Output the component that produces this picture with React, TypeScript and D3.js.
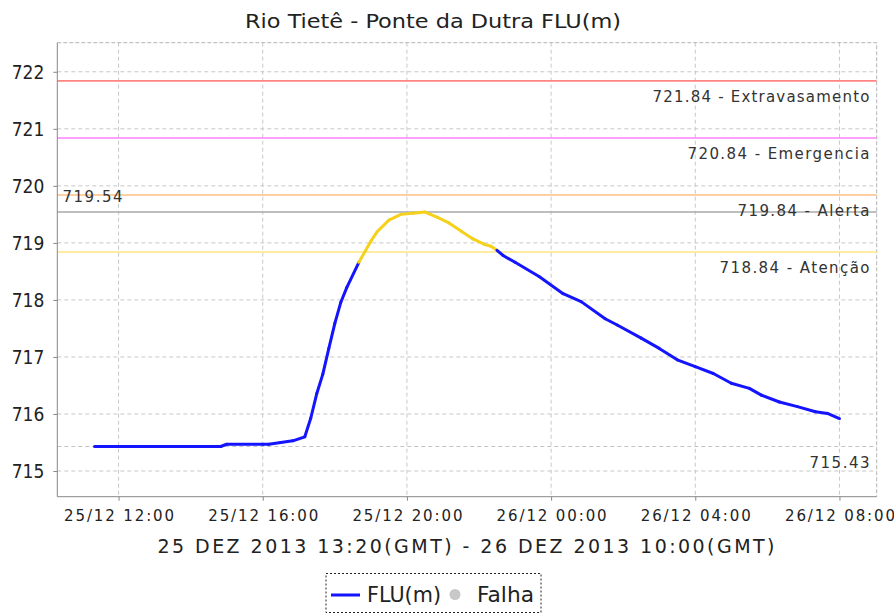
import React, { useEffect, useRef } from 'react';
import * as d3 from 'd3';

// leituras do nível (m) - Rio Tietê, Ponte da Dutra
const times = [
  '25/12 11:20', '25/12 12:40', '25/12 14:00', '25/12 14:50', '25/12 15:00',
  '25/12 16:00', '25/12 16:10', '25/12 16:30', '25/12 16:50', '25/12 17:10',
  '25/12 17:20', '25/12 17:30', '25/12 17:40', '25/12 17:50', '25/12 18:00',
  '25/12 18:10', '25/12 18:20', '25/12 18:40', '25/12 19:00', '25/12 19:10',
  '25/12 19:30', '25/12 19:50', '25/12 20:10', '25/12 20:30', '25/12 20:50',
  '25/12 21:10', '25/12 21:30', '25/12 21:50', '25/12 22:10', '25/12 22:20',
  '25/12 22:30', '25/12 22:40', '25/12 23:00', '25/12 23:40', '26/12 00:20',
  '26/12 00:50', '26/12 01:30', '26/12 01:50', '26/12 02:30', '26/12 03:00',
  '26/12 03:30', '26/12 04:00', '26/12 04:30', '26/12 05:00', '26/12 05:30',
  '26/12 05:50', '26/12 06:20', '26/12 06:50', '26/12 07:20', '26/12 07:40',
  '26/12 08:00',
];

const levels = [
  715.43, 715.43, 715.43, 715.43, 715.47,
  715.47, 715.47, 715.5, 715.53, 715.6,
  715.93, 716.36, 716.7, 717.15, 717.59,
  717.96, 718.22, 718.66, 719.03, 719.19,
  719.4, 719.5, 719.52, 719.54, 719.45,
  719.35, 719.21, 719.07, 718.97, 718.94,
  718.87, 718.78, 718.66, 718.41, 718.11,
  717.97, 717.67, 717.56, 717.33, 717.15,
  716.95, 716.83, 716.71, 716.54, 716.45,
  716.33, 716.21, 716.13, 716.04, 716.01,
  715.92,
];

const thresholdValues = [721.84, 720.84, 719.84, 718.84];
const thresholdNames = ['Extravasamento', 'Emergencia', 'Alerta', 'Atenção'];

const xTickLabels = ['25/12 12:00', '25/12 16:00', '25/12 20:00', '26/12 00:00', '26/12 04:00', '26/12 08:00'];
const yTickValues = [715, 716, 717, 718, 719, 720, 721, 722];
const xDomain = ['25/12 10:18', '26/12 09:02'];
const yDomain = [714.55, 722.51];

const title = 'Rio Tietê - Ponte da Dutra FLU(m)';
const xTitle = '25 DEZ 2013 13:20(GMT) - 26 DEZ 2013 10:00(GMT)';

export default function App() {
  const ref = useRef<SVGSVGElement>(null);

  useEffect(() => {
    const width = 894;
    const height = 614;
    const margin = { top: 42.7, bottom: 117.3, left: 57.3, right: 17.3 };

    const parse = d3.timeParse('%d/%m/%Y %H:%M');
    const toDate = (s: string) => {
      const [d, t] = s.split(' ');
      return parse(`${d}/2013 ${t}`) as Date;
    };
    const fmt = d3.timeFormat('%d/%m %H:%M');

    const data = times.map((t, i) => ({ date: toDate(t), value: levels[i] }));

    const svg = d3.select(ref.current);
    svg.selectAll('*').remove();

    const xScale = d3
      .scaleTime()
      .domain(xDomain.map(toDate))
      .range([margin.left, width - margin.right]);

    const yScale = d3
      .scaleLinear()
      .domain(yDomain)
      .range([height - margin.bottom, margin.top]);

    const x0 = margin.left;
    const x1 = width - margin.right;
    const y0 = height - margin.bottom;
    const y1 = margin.top;

    svg.append('rect')
      .attr('width', width)
      .attr('height', height)
      .attr('fill', '#fff');

    // grade
    const grid = svg.append('g').attr('stroke', '#c8c8c8').attr('stroke-dasharray', '4,3');
    grid.selectAll('line.v')
      .data(xTickLabels.map(toDate))
      .enter()
      .append('line')
      .attr('x1', (d) => xScale(d))
      .attr('x2', (d) => xScale(d))
      .attr('y1', y1)
      .attr('y2', y0);
    grid.selectAll('line.h')
      .data(yTickValues)
      .enter()
      .append('line')
      .attr('x1', x0)
      .attr('x2', x1)
      .attr('y1', (d) => yScale(d))
      .attr('y2', (d) => yScale(d));

    // borda superior e direita
    svg.append('path')
      .attr('d', `M${x0},${y1}H${x1}V${y0}`)
      .attr('fill', 'none')
      .attr('stroke', '#b4b4b4')
      .attr('stroke-dasharray', '4,2');

    // limites
    const thresholdColors = ['#ff8484', '#ff80ff', '#ffbf86', '#ffe680'];
    const labelWidths = [217, 182, 132, 150];
    thresholdValues.forEach((v, i) => {
      svg.append('line')
        .attr('x1', x0)
        .attr('x2', x1)
        .attr('y1', yScale(v))
        .attr('y2', yScale(v))
        .attr('stroke', thresholdColors[i])
        .attr('stroke-width', 1.6);
    });

    const maxV = d3.max(levels) as number;
    const minV = d3.min(levels) as number;

    svg.append('line')
      .attr('x1', x0)
      .attr('x2', x1)
      .attr('y1', yScale(maxV))
      .attr('y2', yScale(maxV))
      .attr('stroke', '#a8a8a8')
      .attr('stroke-width', 1.5);

    svg.append('line')
      .attr('x1', x0)
      .attr('x2', x1)
      .attr('y1', yScale(minV))
      .attr('y2', yScale(minV))
      .attr('stroke', '#c4c4c4')
      .attr('stroke-dasharray', '4,3');

    const labels = svg.append('g')
      .attr('font-family', 'DejaVu Sans')
      .attr('font-size', 15)
      .attr('fill', '#333');

    thresholdValues.forEach((v, i) => {
      labels.append('text')
        .attr('x', 869.5)
        .attr('y', yScale(v) + 21)
        .attr('text-anchor', 'end')
        .attr('textLength', labelWidths[i])
        .attr('lengthAdjust', 'spacing')
        .text(`${v.toFixed(2)} - ${thresholdNames[i]}`);
    });

    labels.append('text')
      .attr('x', 62.5)
      .attr('y', yScale(maxV) - 10)
      .attr('textLength', 60)
      .attr('lengthAdjust', 'spacing')
      .text(maxV.toFixed(2));

    labels.append('text')
      .attr('x', 869.5)
      .attr('y', yScale(minV) + 21)
      .attr('text-anchor', 'end')
      .attr('textLength', 60)
      .attr('lengthAdjust', 'spacing')
      .text(minV.toFixed(2));

    // série, amarela quando passa do nível de atenção
    const atencao = thresholdValues[3];
    const segs = d3.pairs(data);
    const line = d3.line<{ date: Date; value: number }>()
      .x((d) => xScale(d.date))
      .y((d) => yScale(d.value));

    svg.append('g')
      .selectAll('path')
      .data(segs)
      .enter()
      .append('path')
      .attr('d', (d) => line(d) as string)
      .attr('fill', 'none')
      .attr('stroke', (d) => (d[1].value >= atencao ? '#f6d11c' : '#1414ff'))
      .attr('stroke-width', 3)
      .attr('stroke-linecap', 'round');

    // eixos
    const xAxis = d3.axisBottom(xScale)
      .tickValues(xTickLabels.map(toDate))
      .tickFormat((d) => fmt(d as Date))
      .tickSize(4)
      .tickSizeOuter(0);

    const yAxis = d3.axisLeft(yScale)
      .tickValues(yTickValues)
      .tickFormat(d3.format('d'))
      .tickSize(4)
      .tickSizeOuter(0);

    const gx = svg.append('g')
      .attr('transform', `translate(0, ${y0})`)
      .call(xAxis);
    gx.select('.domain').attr('stroke', '#888').attr('d', `M${x0},0H${x1}`);
    gx.selectAll('.tick line').attr('stroke', '#888');
    gx.selectAll('.tick text')
      .attr('font-family', 'DejaVu Sans')
      .attr('font-size', 15)
      .attr('fill', '#222')
      .attr('y', 24)
      .attr('dy', 0)
      .attr('textLength', 110)
      .attr('lengthAdjust', 'spacing');

    const gy = svg.append('g')
      .attr('transform', `translate(${x0}, 0)`)
      .call(yAxis);
    gy.select('.domain').attr('stroke', '#888').attr('d', `M0,${y1}V${y0}`);
    gy.selectAll('.tick line').attr('stroke', '#888');
    gy.selectAll('.tick text')
      .attr('font-family', 'DejaVu Sans Condensed')
      .attr('font-size', 19)
      .attr('fill', '#222')
      .attr('x', -13)
      .attr('dy', '0.36em');

    // títulos
    svg.append('text')
      .attr('x', 433)
      .attr('y', 28)
      .attr('text-anchor', 'middle')
      .attr('font-family', 'DejaVu Sans Condensed')
      .attr('font-size', 19)
      .attr('fill', '#222')
      .attr('textLength', 376)
      .attr('lengthAdjust', 'spacingAndGlyphs')
      .text(title);

    svg.append('text')
      .attr('x', 466)
      .attr('y', 553)
      .attr('text-anchor', 'middle')
      .attr('font-family', 'DejaVu Sans')
      .attr('font-size', 19)
      .attr('fill', '#222')
      .attr('textLength', 617)
      .attr('lengthAdjust', 'spacing')
      .text(xTitle);

    // legenda
    const legend = svg.append('g');
    legend.append('rect')
      .attr('x', 326)
      .attr('y', 573.5)
      .attr('width', 215)
      .attr('height', 39)
      .attr('fill', '#fff')
      .attr('stroke', '#222')
      .attr('stroke-dasharray', '2,2');
    legend.append('line')
      .attr('x1', 331)
      .attr('x2', 360)
      .attr('y1', 595)
      .attr('y2', 595)
      .attr('stroke', '#1414ff')
      .attr('stroke-width', 3);
    legend.append('text')
      .attr('x', 367)
      .attr('y', 602)
      .attr('font-family', 'DejaVu Sans')
      .attr('font-size', 21)
      .attr('fill', '#222')
      .attr('textLength', 74)
      .attr('lengthAdjust', 'spacingAndGlyphs')
      .text('FLU(m)');
    legend.append('circle')
      .attr('cx', 455)
      .attr('cy', 594.5)
      .attr('r', 5.5)
      .attr('fill', '#c8c8c8');
    legend.append('text')
      .attr('x', 477)
      .attr('y', 602)
      .attr('font-family', 'DejaVu Sans')
      .attr('font-size', 21)
      .attr('fill', '#222')
      .attr('textLength', 57)
      .attr('lengthAdjust', 'spacingAndGlyphs')
      .text('Falha');
  }, []);

  return (
    <svg
      ref={ref}
      width={894}
      height={614}
      style={{ position: 'absolute', left: 0, top: 0, display: 'block' }}
    />
  );
}
